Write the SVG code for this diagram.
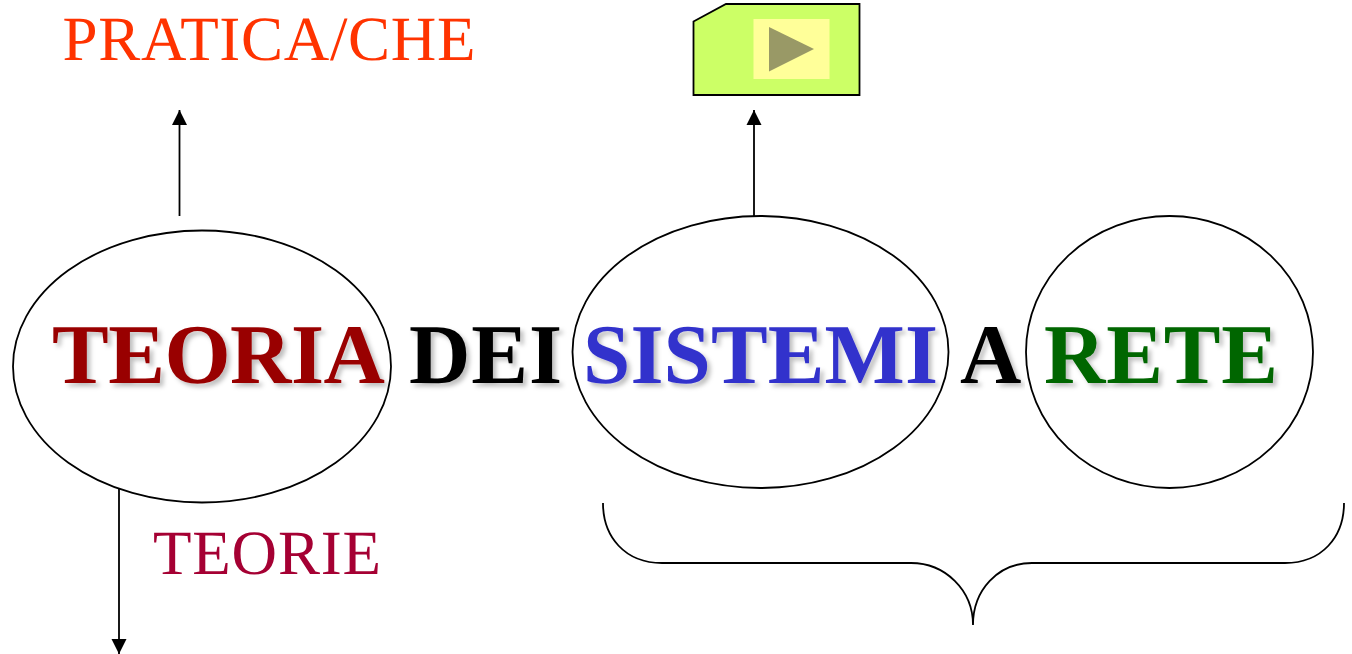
<svg xmlns="http://www.w3.org/2000/svg" width="1352" height="654" viewBox="0 0 1352 654">
<style>
text{text-rendering:geometricPrecision}
.e{fill:none;stroke:#000;stroke-width:1.8}
.c{fill:none;stroke:#000;stroke-width:1.8}
.t{font-family:"Liberation Serif","Times New Roman",serif;font-weight:bold;font-size:85px;filter:url(#sh)}
.l{font-family:"Liberation Serif","Times New Roman",serif;font-size:63px}
</style>
<defs>
<marker id="a" markerUnits="userSpaceOnUse" markerWidth="16" markerHeight="16" refX="15" refY="8" orient="auto"><path d="M0 0.5L15 8L0 15.5Z" fill="#000"/></marker>
<filter id="sh" x="-5%" y="-10%" width="110%" height="125%"><feDropShadow dx="3.5" dy="3.5" stdDeviation="2" flood-color="#000" flood-opacity="0.25"/></filter>
</defs>
<rect width="1352" height="654" fill="#fff"/>
<g id="ellipse-teoria"><ellipse class="e" cx="202" cy="366.500" rx="189" ry="136"/></g>
<g id="ellipse-sistemi"><ellipse class="e" cx="760.500" cy="352" rx="188" ry="136"/></g>
<g id="ellipse-rete"><ellipse class="e" cx="1169.500" cy="352" rx="143.500" ry="136"/></g>
<g id="connectors">
<path class="c" d="M179.500 216V110" marker-end="url(#a)"/>
<path class="c" d="M754 216V110" marker-end="url(#a)"/>
<path class="c" d="M119 489V654" marker-end="url(#a)"/>
<path class="c" d="M603 503C603 537 625 563 662 563H911C945 563 973 590 973 625C973 590 998 563 1032 563H1285C1322 563 1344 537 1344 503"/>
</g>
<g id="button">
<path d="M693.500 21.500L726 4H859.500V95H693.500Z" fill="#ccff66" stroke="#000" stroke-width="1.800"/>
<rect x="753.500" y="19" width="76" height="60" fill="#ffff99"/>
<path d="M769 27L814 49L769 71.500Z" fill="#999966"/>
</g>
<g id="label-pratica"><text class="l" x="62.500" y="60" fill="#ff3300" textLength="413">PRATICA/CHE</text></g>
<g id="label-teorie"><text class="l" x="153" y="574" fill="#a50033" textLength="228">TEORIE</text></g>
<g id="title">
<text class="t" x="52" y="383" fill="#990000" textLength="333">TEORIA</text>
<text class="t" x="409" y="383" fill="#000" textLength="153">DEI</text>
<text class="t" x="583" y="383" fill="#3333cc" textLength="355">SISTEMI</text>
<text class="t" x="960" y="383" fill="#000" textLength="58">A</text>
<text class="t" x="1044" y="383" fill="#006600" textLength="234">RETE</text>
</g>
</svg>
